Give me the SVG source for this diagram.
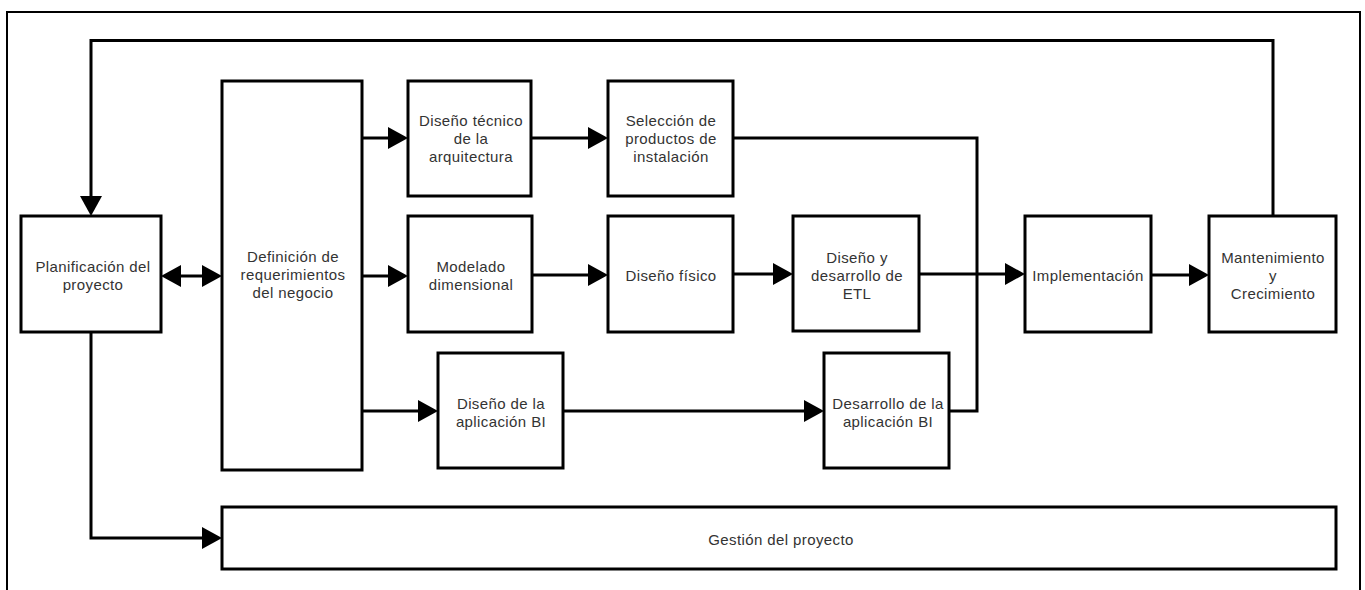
<svg xmlns="http://www.w3.org/2000/svg" width="1365" height="590" viewBox="0 0 1365 590">
  <style>
    .box { fill: #ffffff; stroke: #000000; stroke-width: 3; }
    .frame { fill: #ffffff; stroke: #000000; stroke-width: 2; }
    .lbl { font-family: "Liberation Sans", Arial, sans-serif; font-size: 15px; fill: #333333; text-anchor: middle; letter-spacing: 0.4px; }
    .wire { fill: none; stroke: #000000; stroke-width: 3; }
    .arrow { marker-end: url(#head); }
    .both { marker-start: url(#head); marker-end: url(#head); }
  </style>
  <defs>
    <marker id="head" markerUnits="userSpaceOnUse" viewBox="0 0 20 22" markerWidth="20" markerHeight="22" refX="1" refY="11" orient="auto-start-reverse">
      <path d="M0,0 L20,11 L0,22 Z" fill="#000000"/>
    </marker>
  </defs>

  <!-- outer frame -->
  <rect class="frame" x="7" y="12" width="1353" height="590"/>

  <!-- connectors -->
  <g id="connectors">
    <!-- feedback loop from maintenance back to planning -->
    <path class="wire arrow" d="M1273,216 V40.5 H91 V197"/>
    <!-- planning <-> requirements -->
    <path class="wire both" d="M180,276 H203"/>
    <!-- requirements fan-out -->
    <path class="wire arrow" d="M362,138 H389"/>
    <path class="wire arrow" d="M362,276 H389"/>
    <path class="wire arrow" d="M362,411 H419"/>
    <!-- technology track -->
    <path class="wire arrow" d="M531,138 H589"/>
    <!-- data track -->
    <path class="wire arrow" d="M532,275 H589"/>
    <path class="wire arrow" d="M733,274 H774"/>
    <path class="wire arrow" d="M919,274 H1006"/>
    <!-- product selection joined with BI application development -->
    <path class="wire" d="M733,138 H977 V411 H949"/>
    <!-- BI application track -->
    <path class="wire arrow" d="M563,411 H805"/>
    <!-- deployment to maintenance -->
    <path class="wire arrow" d="M1151,275 H1190"/>
    <!-- planning to project management -->
    <path class="wire arrow" d="M91,332 V538 H203"/>
  </g>

  <g id="planificacion">
    <rect class="box" x="21" y="216" width="140" height="116"/>
    <text class="lbl" x="93" y="272">Planificación del</text>
    <text class="lbl" x="93" y="290">proyecto</text>
  </g>

  <g id="definicion">
    <rect class="box" x="222" y="81" width="140" height="389"/>
    <text class="lbl" x="293" y="262">Definición de</text>
    <text class="lbl" x="293" y="280">requerimientos</text>
    <text class="lbl" x="293" y="298">del negocio</text>
  </g>

  <g id="diseno-tecnico">
    <rect class="box" x="408" y="81" width="123" height="115"/>
    <text class="lbl" x="471" y="126">Diseño técnico</text>
    <text class="lbl" x="471" y="144">de la</text>
    <text class="lbl" x="471" y="162">arquitectura</text>
  </g>

  <g id="seleccion">
    <rect class="box" x="608" y="81" width="125" height="115"/>
    <text class="lbl" x="671" y="126">Selección de</text>
    <text class="lbl" x="671" y="144">productos de</text>
    <text class="lbl" x="671" y="162">instalación</text>
  </g>

  <g id="modelado">
    <rect class="box" x="408" y="216" width="124" height="116"/>
    <text class="lbl" x="471" y="272">Modelado</text>
    <text class="lbl" x="471" y="290">dimensional</text>
  </g>

  <g id="diseno-fisico">
    <rect class="box" x="608" y="216" width="125" height="116"/>
    <text class="lbl" x="671" y="281">Diseño físico</text>
  </g>

  <g id="etl">
    <rect class="box" x="793" y="216" width="126" height="115"/>
    <text class="lbl" x="857" y="263">Diseño y</text>
    <text class="lbl" x="857" y="281">desarrollo de</text>
    <text class="lbl" x="857" y="299">ETL</text>
  </g>

  <g id="implementacion">
    <rect class="box" x="1025" y="216" width="126" height="116"/>
    <text class="lbl" x="1088" y="281">Implementación</text>
  </g>

  <g id="mantenimiento">
    <rect class="box" x="1209" y="216" width="127" height="116"/>
    <text class="lbl" x="1273" y="263">Mantenimiento</text>
    <text class="lbl" x="1273" y="281">y</text>
    <text class="lbl" x="1273" y="299">Crecimiento</text>
  </g>

  <g id="diseno-aplicacion">
    <rect class="box" x="438" y="353" width="125" height="115"/>
    <text class="lbl" x="501" y="409">Diseño de la</text>
    <text class="lbl" x="501" y="427">aplicación BI</text>
  </g>

  <g id="desarrollo-aplicacion">
    <rect class="box" x="824" y="353" width="125" height="115"/>
    <text class="lbl" x="888" y="409">Desarrollo de la</text>
    <text class="lbl" x="888" y="427">aplicación BI</text>
  </g>

  <g id="gestion">
    <rect class="box" x="222" y="507" width="1114" height="62"/>
    <text class="lbl" x="781" y="545">Gestión del proyecto</text>
  </g>
</svg>
